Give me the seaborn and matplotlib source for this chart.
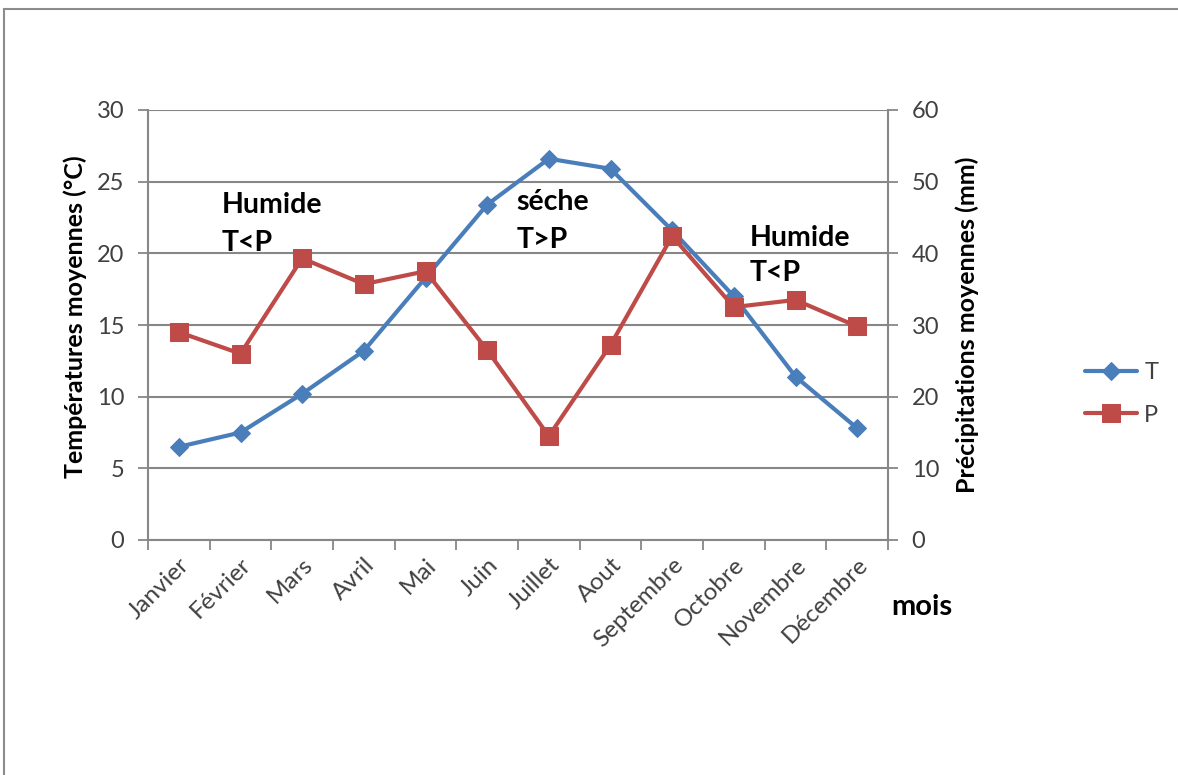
import matplotlib
matplotlib.use("Agg")
import matplotlib.pyplot as plt
import seaborn as sns
import pandas as pd
import numpy as np

# Monthly climate normals
mois = ["Janvier", "Février", "Mars", "Avril", "Mai", "Juin", "Juillet",
        "Aout", "Septembre", "Octobre", "Novembre", "Décembre"]
temperature = [6.5, 7.5, 10.2, 13.2, 18.3, 23.4, 26.6, 25.9, 21.6, 17.0, 11.4, 7.8]
precipitation = [29.0, 26.0, 39.3, 35.7, 37.5, 26.5, 14.5, 27.2, 42.4, 32.5, 33.5, 29.8]

temp_ticks = [0, 5, 10, 15, 20, 25, 30]
prec_ticks = [0, 10, 20, 30, 40, 50, 60]

BLUE = "#4A7EBB"
RED = "#BE4B48"
GRID = "#878787"
TXT = "#404040"

sns.set_theme(style="white")
plt.rcParams["font.family"] = ["Lato", "DejaVu Sans"]

df = pd.DataFrame({"idx": np.arange(len(mois)), "mois": mois,
                   "T": temperature, "P": precipitation})

fig = plt.figure(figsize=(11.78, 7.75), dpi=100)
fig.patch.set_facecolor("white")

# outer chart frame (top and left edges visible)
frame = plt.Rectangle((4 / 1178, -0.1), 1.2, 1 - 9 / 775 + 0.1,
                      transform=fig.transFigure, fill=False,
                      edgecolor="#8c8c8c", lw=1.5)
fig.add_artist(frame)

ax = fig.add_axes([148 / 1178, 1 - 540 / 775, 740 / 1178, 430 / 775])
ax2 = ax.twinx()

sns.lineplot(data=df, x="idx", y="T", ax=ax, color=BLUE, lw=3.0,
             marker="D", ms=9.5, mec=BLUE, mfc=BLUE, label="T", legend=False)
sns.lineplot(data=df, x="idx", y="P", ax=ax2, color=RED, lw=3.0,
             marker="s", ms=13, mec=RED, mfc=RED, label="P", legend=False)

ax.set_xlim(-0.5, len(mois) - 0.5)
ax.set_ylim(0, 30)
ax2.set_ylim(0, 60)
ax.set_yticks(temp_ticks)
ax2.set_yticks(prec_ticks)
ax.set_yticklabels([str(t) for t in temp_ticks])
ax2.set_yticklabels([str(t) for t in prec_ticks])

ax.set_xticks(df["idx"])
ax.set_xticklabels(mois, rotation=45, ha="right", rotation_mode="anchor",
                   fontsize=17.5, color=TXT)
ax.set_xticks(np.arange(-0.5, len(mois)), minor=True)
ax.tick_params(axis="x", which="major", length=0, pad=10)
ax.tick_params(axis="x", which="minor", length=7, width=1.3, color=GRID,
               direction="out", bottom=True)

ax.tick_params(axis="y", length=7, width=1.3, color=GRID, direction="out",
               left=True, labelsize=17, labelcolor=TXT, pad=10)
ax2.tick_params(axis="y", length=7, width=1.3, color=GRID, direction="out",
                right=True, labelsize=17, labelcolor=TXT, pad=10)

ax.grid(axis="y", color=GRID, lw=1.5)
ax.set_axisbelow(True)
for a in (ax, ax2):
    for s in a.spines.values():
        s.set_visible(False)
    a.set_xlabel("")
ax.spines["left"].set_visible(True)
ax.spines["left"].set_color(GRID)
ax.spines["left"].set_linewidth(1.5)
ax2.spines["right"].set_visible(True)
ax2.spines["right"].set_color(GRID)
ax2.spines["right"].set_linewidth(1.5)
ax.spines["bottom"].set_visible(True)
ax.spines["bottom"].set_color(GRID)
ax.spines["bottom"].set_linewidth(1.5)

ax.set_ylabel("Températures moyennes (°C)", fontsize=18, fontweight="bold",
              color="black")
ax2.set_ylabel("Précipitations moyennes (mm)", fontsize=18, fontweight="bold",
               color="black", rotation=90)
ax.yaxis.label.set_va("center")
ax2.yaxis.label.set_va("center")
ax.yaxis.set_label_coords(-0.099, 0.52)
ax2.yaxis.set_label_coords(1.107, 0.50)

fig.text(922 / 1178, 1 - 607 / 775, "mois", fontsize=21, fontweight="bold",
         ha="center", va="center", color="black")

# season annotations
notes = [(0.70, 23.4, "Humide"), (0.70, 20.7, "T<P"),
         (5.47, 23.6, "séche"), (5.47, 20.9, "T>P"),
         (9.25, 21.1, "Humide"), (9.25, 18.6, "T<P")]
for x, y, s in notes:
    ax.text(x, y, s, fontsize=20.5, fontweight="bold", ha="left", va="center",
            color="black", zorder=5)

handles = ax.get_lines()[:1] + ax2.get_lines()[:1]
fig.legend(handles, ["T", "P"], loc="center left",
           bbox_to_anchor=(1064 / 1178, 1 - 394 / 775), frameon=False,
           fontsize=17, labelcolor=TXT, handlelength=2.2, labelspacing=0.9,
           handletextpad=0.3)

fig.savefig("out.png", dpi=100)
